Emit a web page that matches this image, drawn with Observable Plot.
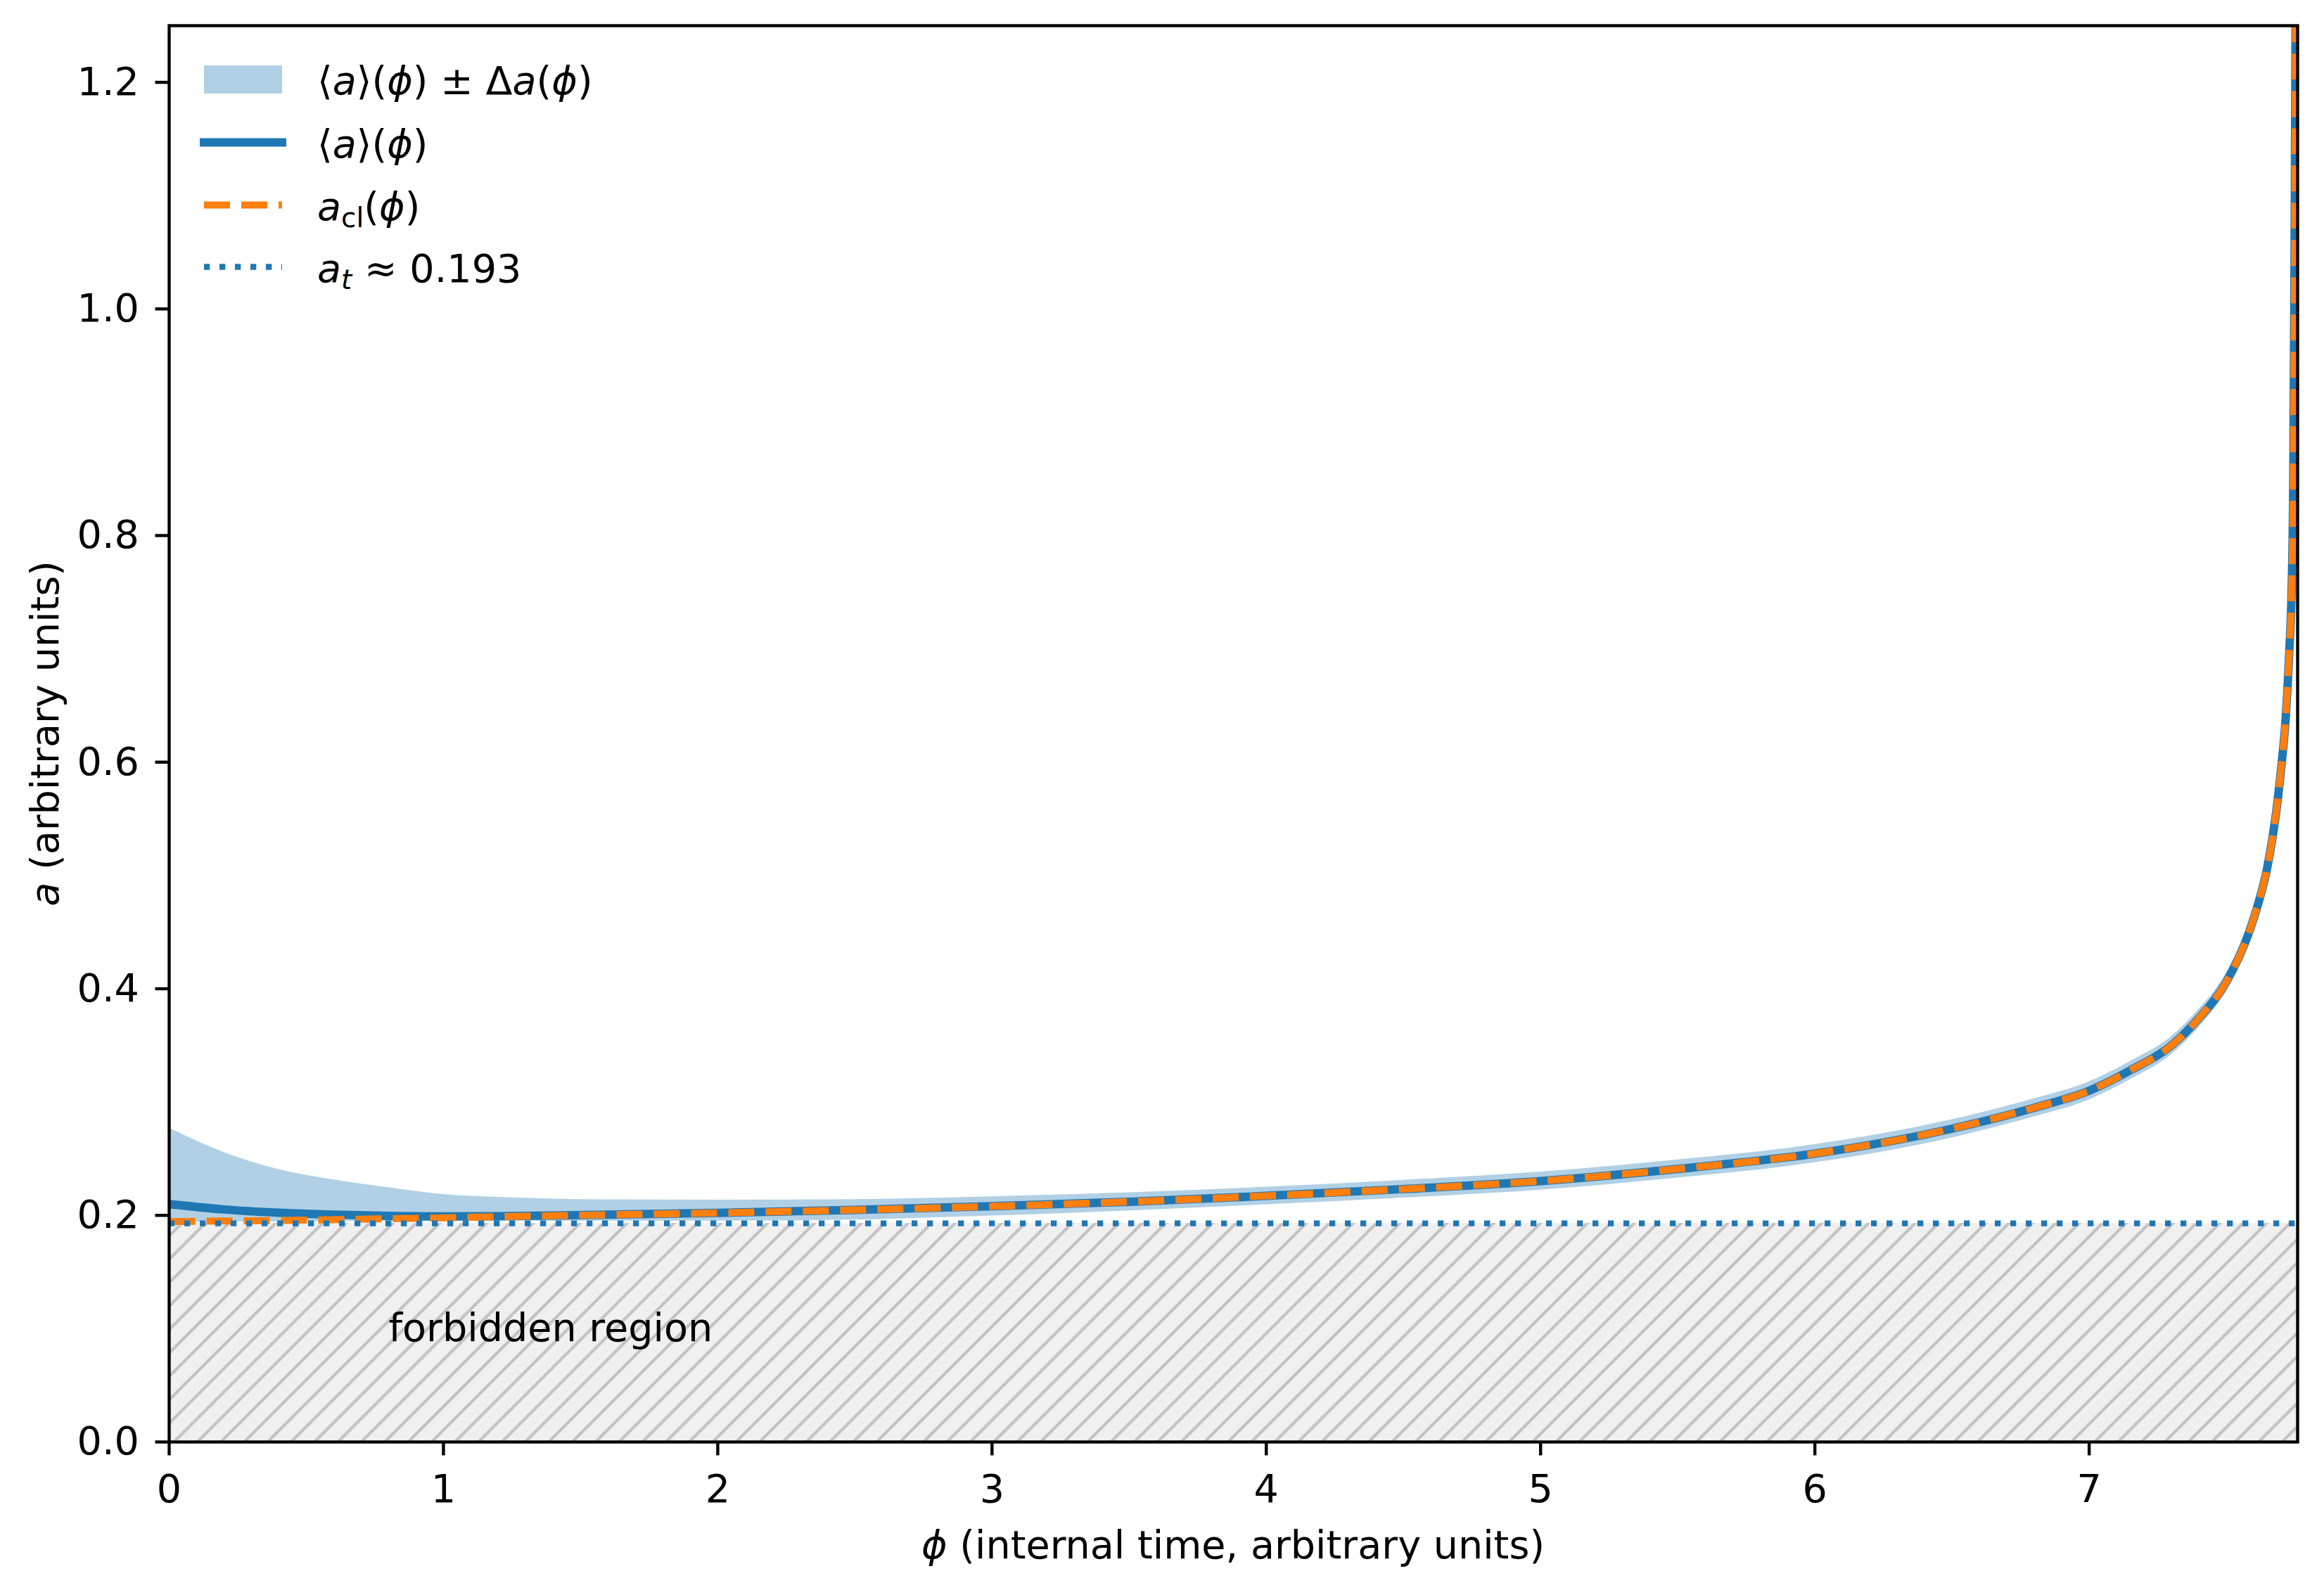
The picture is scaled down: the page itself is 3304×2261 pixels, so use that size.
<!DOCTYPE html>
<html>
<head>
<meta charset="utf-8">
<script src="https://cdn.jsdelivr.net/npm/d3@7"></script>
<script src="https://cdn.jsdelivr.net/npm/@observablehq/plot@0.6"></script>
<style>
  html, body { margin: 0; padding: 0; background: #fff; }
  #chart { width: 3304px; height: 2261px; }
</style>
</head>
<body>
<div id="chart"></div>
<script>
// Internal time φ at which each curve is sampled
const phi = [0, 0.2, 0.4, 0.6, 0.8, 1.0, 1.2, 1.4, 1.6, 2.0, 2.5, 3.0, 3.5, 4.0, 4.5, 5.0, 5.5, 6.0,
  6.5, 6.8, 7.0, 7.15, 7.3, 7.4, 7.5, 7.58, 7.61, 7.65, 7.684, 7.70, 7.716, 7.73, 7.737, 7.744, 7.749, 7.7525];

// Classical trajectory a_cl(φ)
const aCl = [0.1945, 0.1950, 0.1955, 0.1962, 0.1970, 0.1978, 0.1988, 0.1997, 0.2005, 0.2022, 0.2048, 0.2080,
  0.2120, 0.2172, 0.2232, 0.2303, 0.2410, 0.2545, 0.2765, 0.2950, 0.3100, 0.3280, 0.3500, 0.3740, 0.4060,
  0.4480, 0.4700, 0.5080, 0.5600, 0.5950, 0.6370, 0.7000, 0.7410, 0.8440, 1.0500, 1.2500];

// Expectation value ⟨a⟩(φ)
const aMean = [0.2100, 0.2052, 0.2023, 0.2006, 0.1996, 0.1991, 0.1993, 0.1999, 0.2006, 0.2022, 0.2048, 0.2080,
  0.2120, 0.2172, 0.2232, 0.2303, 0.2410, 0.2545, 0.2765, 0.2950, 0.3100, 0.3280, 0.3500, 0.3740, 0.4060,
  0.4480, 0.4700, 0.5080, 0.5600, 0.5950, 0.6370, 0.7000, 0.7410, 0.8440, 1.0500, 1.2500];

// Upper and lower edges of the ⟨a⟩ ± Δa spread
const bandHi = [0.2770, 0.2556, 0.2405, 0.2313, 0.2245, 0.2185, 0.2160, 0.2145, 0.2138, 0.2135, 0.2140, 0.2165,
  0.2200, 0.2250, 0.2311, 0.2383, 0.2490, 0.2625, 0.2845, 0.3030, 0.3180, 0.3360, 0.3580, 0.3820, 0.4140,
  0.4560, 0.4780, 0.5160, 0.5680, 0.6030, 0.6450, 0.7080, 0.7490, 0.8520, 1.0580, 1.2580];
const bandLo = [0.1940, 0.1942, 0.1944, 0.1946, 0.1948, 0.1950, 0.1950, 0.1950, 0.1950, 0.1950, 0.1960, 0.1995,
  0.2040, 0.2094, 0.2153, 0.2223, 0.2330, 0.2465, 0.2685, 0.2870, 0.3020, 0.3200, 0.3420, 0.3660, 0.3980,
  0.4400, 0.4620, 0.5000, 0.5520, 0.5870, 0.6290, 0.6920, 0.7330, 0.8360, 1.0420, 1.2420];

// Turning point and axis extents
const aT = 0.193;
const phiMax = 7.76;
const aMax = 1.25;
const xTicks = [0, 1, 2, 3, 4, 5, 6, 7];
const yTicks = [0, 0.2, 0.4, 0.6, 0.8, 1.0, 1.2];

const xLabel = [{t: "ϕ", it: true}, {t: " (internal time, arbitrary units)"}];
const yLabel = [{t: "a", it: true}, {t: " (arbitrary units)"}];
const regionLabel = [{x: 0.8, y: 0.1, text: "forbidden region"}];

const legendItems = [
  {kind: "band", parts: [{t: "⟨"}, {t: "a", it: true}, {t: "⟩("}, {t: "ϕ", it: true}, {t: ") ± Δ"}, {t: "a", it: true}, {t: "("}, {t: "ϕ", it: true}, {t: ")"}]},
  {kind: "mean", parts: [{t: "⟨"}, {t: "a", it: true}, {t: "⟩("}, {t: "ϕ", it: true}, {t: ")"}]},
  {kind: "cl", parts: [{t: "a", it: true}, {t: "cl", sub: true}, {t: "("}, {t: "ϕ", it: true}, {t: ")"}]},
  {kind: "at", parts: [{t: "a", it: true}, {t: "t", it: true, sub: true}, {t: " ≈ 0.193"}]}
];

(function draw() {
  const BLUE = "#1f77b4", ORANGE = "#ff7f0e";
  const FONT = 55.6;

  const rows = phi.map((p, i) => ({phi: p, cl: aCl[i], mean: aMean[i], hi: bandHi[i], lo: bandLo[i]}));

  const chart = Plot.plot({
    width: 3304,
    height: 2261,
    marginLeft: 240,
    marginRight: 38,
    marginTop: 36,
    marginBottom: 211,
    style: {fontFamily: '"DejaVu Sans", sans-serif', fontSize: FONT + "px", color: "#000", background: "#fff", overflow: "visible"},
    x: {domain: [0, phiMax]},
    y: {domain: [0, aMax]},
    marks: [
      Plot.rect([{x1: 0, x2: phiMax, y1: 0, y2: aT}], {x1: "x1", x2: "x2", y1: "y1", y2: "y2", fill: "#f0f0f0"}),
      Plot.areaY(rows, {x: "phi", y1: "lo", y2: "hi", fill: BLUE, fillOpacity: 0.35, curve: "monotone-x", clip: true}),
      Plot.line(rows, {x: "phi", y: "mean", stroke: BLUE, strokeWidth: 12, strokeLinecap: "butt", curve: "monotone-x", clip: true}),
      Plot.line(rows, {x: "phi", y: "cl", stroke: ORANGE, strokeWidth: 10, strokeDasharray: "37,16", strokeLinecap: "butt", curve: "monotone-x", clip: true}),
      Plot.ruleY([aT], {stroke: BLUE, strokeWidth: 8.3, strokeDasharray: "8.3,13.7", strokeLinecap: "butt"}),
      Plot.text(regionLabel, {x: "x", y: "y", text: "text", textAnchor: "start", fill: "#000"}),
      Plot.axisX({ticks: xTicks, tickFormat: d3.format("d"), tickSize: 19.5, tickPadding: 27, strokeWidth: 4.4, label: null}),
      Plot.axisY({ticks: yTicks, tickFormat: d3.format(".1f"), tickSize: 19.5, tickPadding: 23, strokeWidth: 4.4, label: null}),
      Plot.frame({stroke: "#000", strokeWidth: 4.4})
    ]
  });

  document.getElementById("chart").appendChild(chart);

  const svg = d3.select(chart);
  const xr = chart.scale("x").range;   // [left, right]
  const yr = chart.scale("y").range;   // [bottom, top]
  const fLeft = xr[0], fRight = xr[1], fBottom = yr[0], fTop = yr[1];

  // Hatch pattern for the forbidden region
  const hs = 33.3;
  const defs = svg.insert("defs", ":first-child");
  const pat = defs.append("pattern").attr("id", "hatch").attr("patternUnits", "userSpaceOnUse")
    .attr("width", hs).attr("height", hs);
  pat.append("rect").attr("width", hs).attr("height", hs).attr("fill", "#f0f0f0");
  pat.append("path")
    .attr("d", `M${-hs / 4},${hs / 4}L${hs / 4},${-hs / 4}M0,${hs}L${hs},0M${3 * hs / 4},${5 * hs / 4}L${5 * hs / 4},${3 * hs / 4}`)
    .attr("stroke", "#c2c2c2").attr("stroke-width", 4.2).attr("fill", "none");
  svg.selectAll('g[aria-label="rect"]').attr("fill", "url(#hatch)").selectAll("rect").attr("fill", "url(#hatch)");

  // Mixed upright/italic/subscript text
  function richText(sel, parts, size) {
    const sub = 10;
    let shifted = false;
    parts.forEach(p => {
      const ts = sel.append("tspan").text(p.t)
        .attr("font-style", p.it ? "italic" : "normal");
      if (p.sub) {
        ts.attr("font-size", size * 0.7).attr("dy", shifted ? 0 : sub);
        shifted = true;
      } else {
        ts.attr("font-size", size);
        if (shifted) { ts.attr("dy", -sub); shifted = false; }
      }
    });
  }

  // Axis titles
  const xt = svg.append("text")
    .attr("x", (fLeft + fRight) / 2).attr("y", fBottom + 148).attr("dy", "0.32em")
    .attr("text-anchor", "middle").attr("fill", "#000");
  richText(xt, xLabel, FONT);

  const yt = svg.append("text")
    .attr("transform", `translate(${fLeft - 175},${(fTop + fBottom) / 2}) rotate(-90)`)
    .attr("dy", "0.32em").attr("text-anchor", "middle").attr("fill", "#000");
  richText(yt, yLabel, FONT);

  // Legend in the upper-left corner of the frame
  const lg = svg.append("g").attr("class", "legend").attr("text-anchor", "start");
  const hx = fLeft + 50, hw = 111, tx = fLeft + 211;
  const rowY = [fTop + 77, fTop + 166.5, fTop + 255.5, fTop + 343.5];
  legendItems.forEach((item, i) => {
    const cy = rowY[i];
    if (item.kind === "band") {
      lg.append("rect").attr("x", hx).attr("y", cy - 20).attr("width", hw).attr("height", 40)
        .attr("fill", BLUE).attr("fill-opacity", 0.35);
    } else if (item.kind === "mean") {
      lg.append("line").attr("x1", hx).attr("x2", hx + hw).attr("y1", cy).attr("y2", cy)
        .attr("stroke", BLUE).attr("stroke-width", 12).attr("stroke-linecap", "square");
    } else if (item.kind === "cl") {
      lg.append("line").attr("x1", hx).attr("x2", hx + hw).attr("y1", cy).attr("y2", cy)
        .attr("stroke", ORANGE).attr("stroke-width", 10).attr("stroke-dasharray", "37,16");
    } else {
      lg.append("line").attr("x1", hx).attr("x2", hx + hw).attr("y1", cy).attr("y2", cy)
        .attr("stroke", BLUE).attr("stroke-width", 8.3).attr("stroke-dasharray", "8.3,13.7");
    }
    const t = lg.append("text").attr("x", tx).attr("y", cy + 21)
      .attr("text-anchor", "start").attr("fill", "#000");
    richText(t, item.parts, FONT);
  });
})();
</script>
</body>
</html>
